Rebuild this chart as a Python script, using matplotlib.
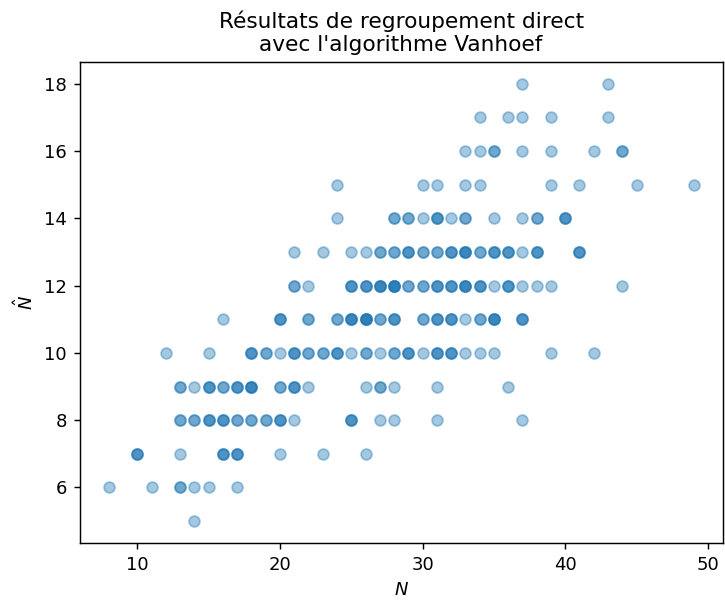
import matplotlib
matplotlib.use("Agg")
import matplotlib.pyplot as plt
import numpy as np

# x values (N) for each estimated value (N-hat); repeated values = overlapping points
row_18 = [37, 43]
row_17 = [34, 36, 37, 39, 43]
row_16 = [33, 34, 35, 35, 37, 39, 42, 44, 44]
row_15 = [24, 30, 31, 33, 34, 39, 41, 45, 49]
row_14 = [24, 28, 28, 29, 29, 30, 31, 31, 31, 32, 33, 33, 35, 37, 38, 38, 40, 40, 40]
row_13 = [21, 23, 25, 26, 27, 27, 28, 28, 29, 29, 29, 30, 30, 31, 31, 32, 32, 32,
          33, 33, 33, 33, 34, 34, 35, 35, 35, 36, 36, 36, 37, 38, 38, 38, 41, 41, 41]
row_12 = [21, 21, 22, 25, 25, 25, 26, 26, 26, 27, 27, 27, 27, 28, 28, 28, 28, 28,
          29, 29, 30, 30, 31, 31, 31, 32, 32, 32, 33, 33, 33, 33, 34, 34, 34, 35,
          36, 36, 36, 37, 38, 39, 44]
row_11 = [16, 20, 20, 20, 22, 22, 24, 24, 25, 25, 25, 25, 26, 26, 26, 26, 26,
          27, 27, 28, 28, 28, 30, 30, 31, 31, 31, 32, 32, 32, 33, 34, 34,
          35, 35, 35, 35, 37, 37, 37]
row_10 = [12, 15, 18, 18, 18, 19, 19, 20, 21, 21, 21, 22, 22, 23, 23, 24, 24, 24,
          25, 26, 26, 27, 28, 28, 29, 29, 29, 30, 31, 31, 31, 32, 32, 32, 33, 34,
          35, 39, 42]
row_9 = [13, 13, 14, 15, 15, 15, 16, 16, 17, 17, 17, 18, 18, 18, 18, 20, 20,
         21, 21, 21, 22, 26, 27, 27, 28, 31, 36]
row_8 = [13, 13, 14, 14, 15, 15, 15, 16, 16, 16, 17, 17, 18, 18, 19, 19, 20, 20, 20,
         21, 25, 25, 25, 27, 28, 31, 37]
row_7 = [10, 10, 10, 13, 16, 16, 16, 17, 17, 17, 20, 23, 26]
row_6 = [8, 11, 13, 13, 14, 15, 17]
row_5 = [14]

rows = {18: row_18, 17: row_17, 16: row_16, 15: row_15, 14: row_14, 13: row_13,
        12: row_12, 11: row_11, 10: row_10, 9: row_9, 8: row_8, 7: row_7,
        6: row_6, 5: row_5}

xs, ys = [], []
for yv, xl in rows.items():
    xs.extend(xl)
    ys.extend([yv] * len(xl))

fig = plt.figure(figsize=(725 / 130, 600 / 130), dpi=130)
ax = fig.add_axes([0.1097, 0.095, 0.8873, 0.802])
ax.scatter(xs, ys, alpha=0.4)
ax.set_title("Résultats de regroupement direct\navec l'algorithme Vanhoef")
ax.set_xlabel("$N$")
ax.set_ylabel(r"$\hat{N}$")
fig.savefig("out.png", dpi=130)
